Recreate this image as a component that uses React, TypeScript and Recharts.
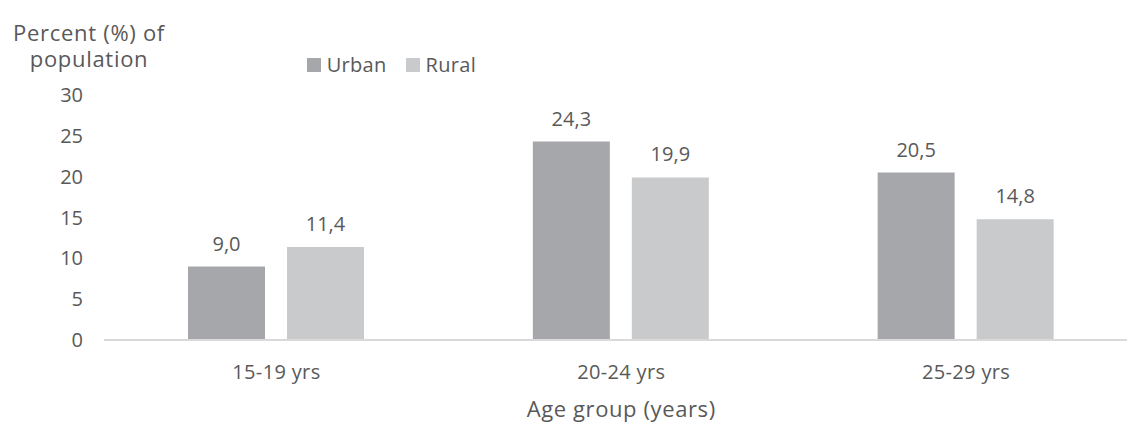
import { BarChart, Bar, XAxis, YAxis, Legend, LabelList, Label } from 'recharts'

const ageGroups = ['15-19 yrs', '20-24 yrs', '25-29 yrs']
const urbanValues = [9.0, 24.3, 20.5]
const ruralValues = [11.4, 19.9, 14.8]
const seriesNames = ['Urban', 'Rural']
const yTicks = [0, 5, 10, 15, 20, 25, 30]
const yTitleLines = ['Percent (%) of', 'population']

const TEXT = '#595959'
const URBAN = '#a6a7aa'
const RURAL = '#c9cacc'

const data = ageGroups.map((group, i) => ({
    group,
    urban: urbanValues[i],
    rural: ruralValues[i],
}))

const fmt = (v: number) => v.toFixed(1).replace('.', ',')

function LegendContent({ payload }: any) {
    // keep the series order, recharts sorts by name otherwise
    const items = [...(payload || [])].sort(
        (a: any, b: any) => seriesNames.indexOf(a.value) - seriesNames.indexOf(b.value)
    )
    return (
        <div style={{ display: 'flex', lineHeight: '20px', fontSize: 20, color: TEXT }}>
            {items.map((entry: any, i: number) => (
                <div
                    key={entry.value}
                    style={{
                        display: 'flex',
                        alignItems: 'center',
                        marginLeft: i === 0 ? 0 : 19,
                    }}
                >
                    <span
                        style={{
                            display: 'inline-block',
                            width: 14,
                            height: 14,
                            background: entry.color,
                            marginRight: 6,
                        }}
                    />
                    <span style={{ letterSpacing: 0.3 }}>{entry.value}</span>
                </div>
            ))}
        </div>
    )
}

function YTitle({ viewBox }: any) {
    const cx = viewBox.x + 89
    return (
        <g>
            {yTitleLines.map((line, i) => (
                <text
                    key={line}
                    x={cx}
                    y={viewBox.y - 54.5 + i * 26}
                    textAnchor="middle"
                    fill={TEXT}
                    fontSize={22}
                    letterSpacing={0.7}
                >
                    {line}
                </text>
            ))}
        </g>
    )
}

export default function App() {
    return (
        <div
            style={{
                position: 'absolute',
                left: 0,
                top: 0,
                width: 1127,
                height: 423,
                overflow: 'hidden',
                background: '#fff',
                fontFamily: '"Open Sans", sans-serif',
            }}
        >
            <BarChart
                width={1140}
                height={423}
                data={data}
                margin={{ top: 95, right: 1.5, left: 0, bottom: 0 }}
                barSize={77}
                barGap={22}
            >
                <XAxis
                    dataKey="group"
                    height={83}
                    axisLine={{ stroke: '#d9d9d9', strokeWidth: 2 }}
                    tickLine={false}
                    tickSize={0}
                    tickMargin={25}
                    tick={{ fill: TEXT, fontSize: 20, letterSpacing: 0.35 }}
                >
                    <Label
                        value="Age group (years)"
                        position="insideBottom"
                        offset={6}
                        fill={TEXT}
                        fontSize={22}
                        letterSpacing={0.6}
                    />
                </XAxis>
                <YAxis
                    width={104}
                    domain={[0, 30]}
                    ticks={yTicks}
                    axisLine={false}
                    tickLine={false}
                    tickSize={0}
                    tickMargin={21}
                    tick={{ fill: TEXT, fontSize: 20 }}
                >
                    <Label content={<YTitle />} />
                </YAxis>
                <Legend
                    layout="horizontal"
                    verticalAlign="middle"
                    align="center"
                    content={<LegendContent />}
                    wrapperStyle={{ left: 306.7, top: 54.5, width: 'auto', height: 'auto' }}
                />
                <Bar dataKey="urban" name="Urban" fill={URBAN} isAnimationActive={false}>
                    <LabelList
                        dataKey="urban"
                        position="top"
                        offset={16}
                        formatter={fmt}
                        fill={TEXT}
                        fontSize={20}
                    />
                </Bar>
                <Bar dataKey="rural" name="Rural" fill={RURAL} isAnimationActive={false}>
                    <LabelList
                        dataKey="rural"
                        position="top"
                        offset={16}
                        formatter={fmt}
                        fill={TEXT}
                        fontSize={20}
                    />
                </Bar>
            </BarChart>
        </div>
    )
}
